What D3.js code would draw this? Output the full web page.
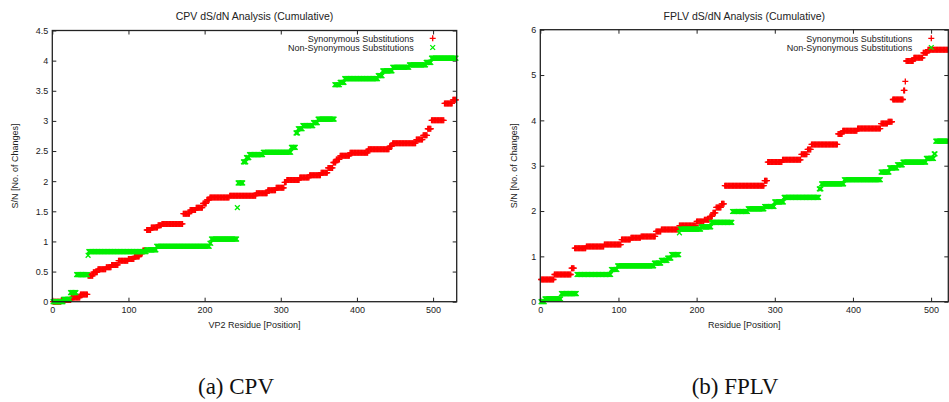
<!DOCTYPE html>
<html><head><meta charset="utf-8">
<script src="https://cdn.jsdelivr.net/npm/d3@7/dist/d3.min.js"></script>
<style>body{margin:0;background:#fff}svg{display:block}</style>
</head><body><svg id="c" width="949" height="402"></svg>
<script>
// ---------- DATA (step breakpoints: residue where a new cumulative value starts) ----------
const cpvSynStart = [0,12,25,37,47,54,60,71,78,87,100,108,115,119,124,130,139,144,172,181,189,198,203,207,233,268,283,294,305,308,325,338,353,362,369,373,378,391,415,443,447,478,487,493,498,515,526];
const cpvSynValue = [0,0.03,0.07,0.12,0.43,0.49,0.54,0.57,0.61,0.68,0.71,0.75,0.8,0.85,1.19,1.23,1.27,1.29,1.46,1.52,1.56,1.63,1.69,1.73,1.76,1.8,1.85,1.89,1.98,2.02,2.06,2.1,2.14,2.22,2.31,2.36,2.42,2.47,2.53,2.58,2.63,2.69,2.76,2.87,3.01,3.29,3.35];
const cpvNonStart = [0,15,24,32,47,48,124,137,207,209,243,244,251,255,259,277,314,320,323,329,343,349,371,378,384,428,434,447,469,491,498];
const cpvNonValue = [0,0.04,0.15,0.45,0.77,0.83,0.86,0.92,0.97,1.04,1.56,1.97,2.32,2.39,2.44,2.48,2.56,2.8,2.87,2.92,2.97,3.03,3.6,3.64,3.7,3.75,3.83,3.89,3.93,3.97,4.04];
const fplvSynStart = [0,18,40,44,59,82,104,116,129,148,155,178,200,210,217,221,225,232,236,287,291,310,334,342,347,381,387,406,436,445,451,465,467,468,478,490,496];
const fplvSynValue = [0.49,0.6,0.74,1.18,1.22,1.26,1.37,1.41,1.44,1.55,1.59,1.68,1.77,1.81,1.88,1.96,2.08,2.16,2.56,2.67,3.08,3.13,3.25,3.36,3.47,3.7,3.77,3.82,3.93,3.97,4.46,4.66,4.86,5.31,5.38,5.49,5.56];
const fplvNonStart = [0,6,27,47,91,99,146,155,163,168,178,179,206,219,246,266,287,300,312,357,360,389,436,447,457,464,494,504,506];
const fplvNonValue = [0,0.06,0.18,0.6,0.71,0.79,0.85,0.91,0.96,1.04,1.52,1.6,1.65,1.75,1.99,2.05,2.1,2.2,2.3,2.49,2.6,2.69,2.86,2.95,3.02,3.08,3.16,3.26,3.54];
const cpvLastResidue = 530;
const fplvLastResidue = 522;
const cpvXMax = 531;
const fplvXMax = 522;
const xTicks = [0,100,200,300,400,500];
const cpvYTicks = [0,0.5,1,1.5,2,2.5,3,3.5,4,4.5];
const fplvYTicks = [0,1,2,3,4,5,6];
const seriesNames = ["Synonymous Substitutions","Non-Synonymous Substitutions"];
const titles = ["CPV dS/dN Analysis (Cumulative)","FPLV dS/dN Analysis (Cumulative)"];
const xLabels = ["VP2 Residue [Position]","Residue [Position]"];
const yLabel = "S/N [No. of Changes]";
const captions = ["(a) CPV","(b) FPLV"];

// ---------- helpers ----------
function expand(starts, values, last){
  const out=[]; let j=0;
  for(let r=1;r<=last;r++){
    while(j+1<starts.length && starts[j+1]<=r) j++;
    out.push({r:r, v:values[j]});
  }
  return out;
}
const svg = d3.select("#c");
const FONT = "'Liberation Sans', Arial, sans-serif";
const TXT = "#222";
const RED = "#ff0000", GREEN = "#00ee00";
const plusPath = "M-3,0H3M0,-3V3";
const crossPath = "M-2.4,-2.4L2.4,2.4M-2.4,2.4L2.4,-2.4";

const panels = [
  {x0:52.3,x1:456.7,y0:301.7,y1:30.5,xmax:cpvXMax,ymax:4.5,yTicks:cpvYTicks,
   syn:expand(cpvSynStart,cpvSynValue,cpvLastResidue),
   non:expand(cpvNonStart,cpvNonValue,cpvLastResidue),
   title:titles[0],xl:xLabels[0],ylx:15,cap:captions[0],capx:236,legOff:24},
  {x0:540.3,x1:948.3,y0:301.7,y1:29.7,xmax:fplvXMax,ymax:6,yTicks:fplvYTicks,
   syn:expand(fplvSynStart,fplvSynValue,fplvLastResidue),
   non:expand(fplvNonStart,fplvNonValue,fplvLastResidue),
   title:titles[1],xl:xLabels[1],ylx:513.5,cap:captions[1],capx:735,legOff:17}
];

panels.forEach(p=>{
  const x = d3.scaleLinear().domain([0,p.xmax]).range([p.x0,p.x1]);
  const y = d3.scaleLinear().domain([0,p.ymax]).range([p.y0,p.y1]);
  const g = svg.append("g");

  const styleAxis = sel=>{
    sel.select(".domain").remove();
    sel.selectAll("line").attr("stroke","#222").attr("stroke-width",1);
    sel.selectAll("text").attr("fill",TXT).style("font-family",FONT).style("font-size","9px");
  };
  g.append("g").attr("transform",`translate(0,${p.y0})`)
    .call(d3.axisBottom(x).tickValues(xTicks).tickSize(-4).tickPadding(5).tickFormat(d3.format("d")))
    .call(styleAxis);
  g.append("g").attr("transform",`translate(0,${p.y1})`)
    .call(d3.axisTop(x).tickValues(xTicks).tickSize(-4).tickFormat(""))
    .call(styleAxis);
  g.append("g").attr("transform",`translate(${p.x0},0)`)
    .call(d3.axisLeft(y).tickValues(p.yTicks).tickSize(-4).tickPadding(4).tickFormat(d=>String(d)))
    .call(styleAxis);
  g.append("g").attr("transform",`translate(${p.x1},0)`)
    .call(d3.axisRight(y).tickValues(p.yTicks).tickSize(-4).tickFormat(""))
    .call(styleAxis);

  g.append("g").selectAll("path").data(p.syn).join("path")
    .attr("d",plusPath).attr("transform",d=>`translate(${x(d.r)},${y(d.v)})`)
    .attr("stroke",RED).attr("stroke-width",1.3).attr("fill","none");
  g.append("g").selectAll("path").data(p.non).join("path")
    .attr("d",crossPath).attr("transform",d=>`translate(${x(d.r)},${y(d.v)})`)
    .attr("stroke",GREEN).attr("stroke-width",1.3).attr("fill","none");

  g.append("rect").attr("x",p.x0).attr("y",p.y1).attr("width",p.x1-p.x0).attr("height",p.y0-p.y1)
    .attr("fill","none").attr("stroke","#222").attr("stroke-width",1.3);

  const sx = p.x1-p.legOff, tx = sx-19;
  const leg = g.append("g").style("font-family",FONT).style("font-size","9px").attr("fill",TXT);
  leg.append("text").attr("x",tx).attr("y",41.5).attr("text-anchor","end").text(seriesNames[0]);
  leg.append("text").attr("x",tx).attr("y",51).attr("text-anchor","end").text(seriesNames[1]);
  g.append("path").attr("d",plusPath).attr("transform",`translate(${sx},38.3)`)
    .attr("stroke",RED).attr("stroke-width",1.3);
  g.append("path").attr("d",crossPath).attr("transform",`translate(${sx},47.5)`)
    .attr("stroke",GREEN).attr("stroke-width",1.3);

  const cx = (p.x0+p.x1)/2;
  g.append("text").attr("x",cx).attr("y",19.5).attr("text-anchor","middle")
    .style("font-family",FONT).style("font-size","10.5px").attr("fill",TXT).text(p.title);
  g.append("text").attr("x",cx).attr("y",328).attr("text-anchor","middle")
    .style("font-family",FONT).style("font-size","9px").attr("fill",TXT).text(p.xl);
  g.append("text").attr("transform",`translate(${p.ylx+3},${(p.y0+p.y1)/2}) rotate(-90)`)
    .attr("text-anchor","middle").style("font-family",FONT).style("font-size","9px").attr("fill",TXT).text(yLabel);
  g.append("text").attr("x",p.capx).attr("y",394).attr("text-anchor","middle")
    .style("font-family","'Liberation Serif', 'DejaVu Serif', serif").style("font-size","23px").attr("fill","#111").text(p.cap);
});
</script>
</body></html>
